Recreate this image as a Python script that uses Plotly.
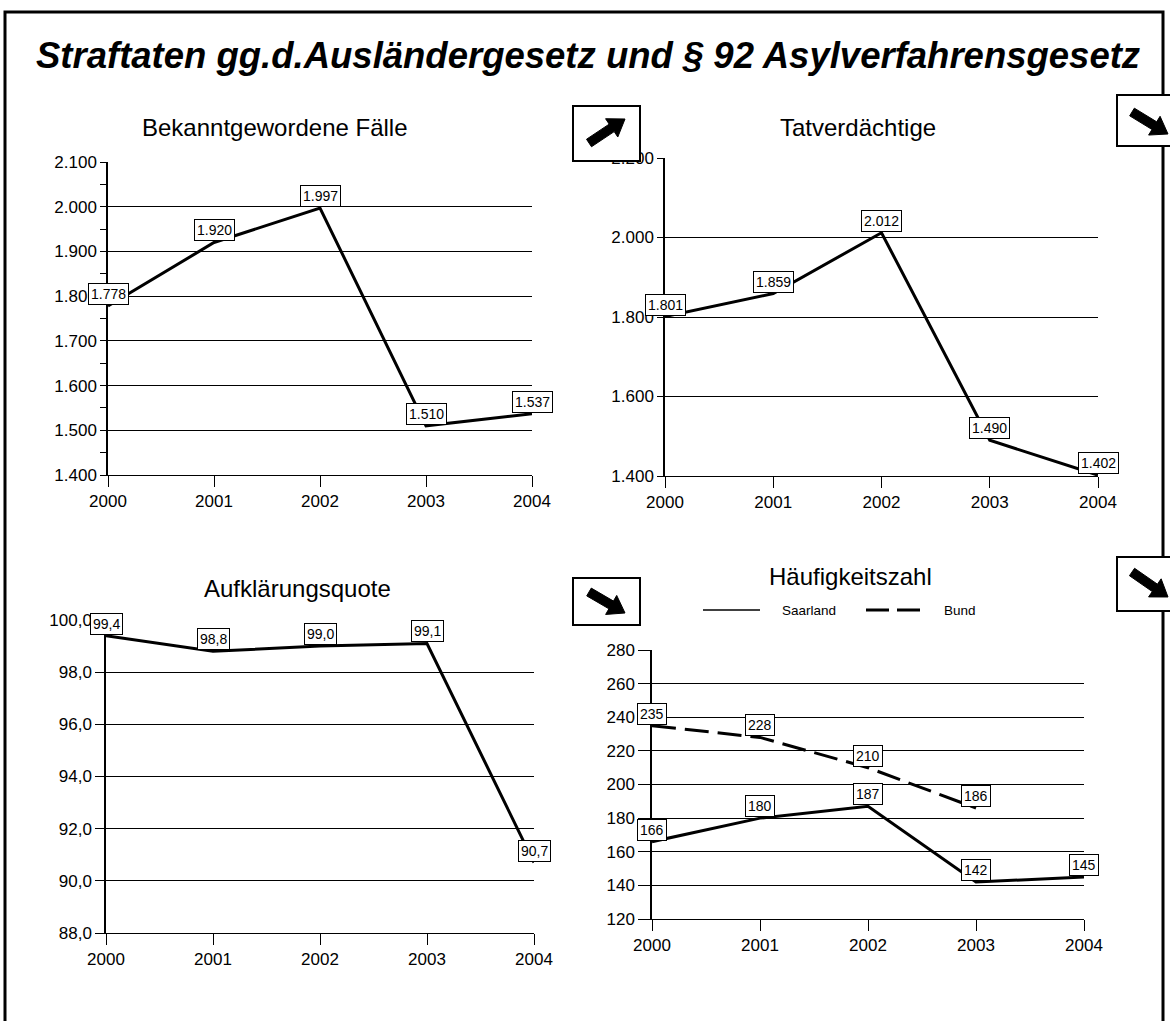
import plotly.graph_objects as go

W, H = 1170, 1021

# ---------------- data ----------------
years = [2000, 2001, 2002, 2003, 2004]
faelle = [1778, 1920, 1997, 1510, 1537]
tatverd = [1801, 1859, 2012, 1490, 1402]
aufkl = [99.4, 98.8, 99.0, 99.1, 90.7]
hzahl_saar = [166, 180, 187, 142, 145]
hzahl_bund_years = [2000, 2001, 2002, 2003]
hzahl_bund = [235, 228, 210, 186]

titles = ["Bekanntgewordene Fälle", "Tatverdächtige", "Aufklärungsquote", "Häufigkeitszahl"]
main_title = "Straftaten gg.d.Ausländergesetz und § 92 Asylverfahrensgesetz"
legend_names = ["Saarland", "Bund"]

FONT = "Liberation Sans, Arial, sans-serif"


def px(x):
    return x / W


def py(y):
    return 1 - y / H


def thou(v):
    return f"{v:,}".replace(",", ".")


def dec(v):
    return f"{v:.1f}".replace(".", ",")


fig = go.Figure()

# traces
fig.add_trace(go.Scatter(x=years, y=faelle, mode="lines", line=dict(color="black", width=3),
                         xaxis="x", yaxis="y", showlegend=False, hoverinfo="skip"))
fig.add_trace(go.Scatter(x=years, y=tatverd, mode="lines", line=dict(color="black", width=3),
                         xaxis="x2", yaxis="y2", showlegend=False, hoverinfo="skip"))
fig.add_trace(go.Scatter(x=years, y=aufkl, mode="lines", line=dict(color="black", width=3),
                         xaxis="x3", yaxis="y3", showlegend=False, hoverinfo="skip"))
fig.add_trace(go.Scatter(x=hzahl_bund_years, y=hzahl_bund, mode="lines", name=legend_names[1],
                         line=dict(color="black", width=3, dash="24px,9px"),
                         xaxis="x4", yaxis="y4", showlegend=False, hoverinfo="skip"))
fig.add_trace(go.Scatter(x=years, y=hzahl_saar, mode="lines", name=legend_names[0],
                         line=dict(color="black", width=3),
                         xaxis="x4", yaxis="y4", showlegend=False, hoverinfo="skip"))

annotations = []


def add_labels(xs, ys, texts, xref, yref):
    for x, y, t in zip(xs, ys, texts):
        annotations.append(dict(x=x, y=y, xref=xref, yref=yref, text=t, showarrow=False,
                                xanchor="center", yanchor="bottom", yshift=1,
                                font=dict(family=FONT, size=14, color="black"),
                                bgcolor="white", bordercolor="black", borderwidth=1, borderpad=2))


add_labels(years, faelle, [thou(v) for v in faelle], "x", "y")
add_labels(years, tatverd, [thou(v) for v in tatverd], "x2", "y2")
add_labels(years, aufkl, [dec(v) for v in aufkl], "x3", "y3")
add_labels(hzahl_bund_years, hzahl_bund, [str(v) for v in hzahl_bund], "x4", "y4")
add_labels(years, hzahl_saar, [str(v) for v in hzahl_saar], "x4", "y4")

# subplot titles
for t, (cx, cy) in zip(titles, [(275, 127), (858, 127), (297, 588), (850, 576)]):
    annotations.append(dict(x=px(cx), y=py(cy), xref="paper", yref="paper", text=t, showarrow=False,
                            xanchor="center", yanchor="middle",
                            font=dict(family=FONT, size=24, color="black")))

# main title
annotations.append(dict(x=px(34), y=py(55), xref="paper", yref="paper",
                        text=f"<b><i>{main_title}</i></b>", showarrow=False,
                        xanchor="left", yanchor="middle",
                        font=dict(family=FONT, size=36.5, color="black")))

# legend texts
annotations.append(dict(x=px(780), y=py(610), xref="paper", yref="paper", text=legend_names[0],
                        showarrow=False, xanchor="left", yanchor="middle",
                        font=dict(family=FONT, size=13.5, color="black")))
annotations.append(dict(x=px(942), y=py(610), xref="paper", yref="paper", text=legend_names[1],
                        showarrow=False, xanchor="left", yanchor="middle",
                        font=dict(family=FONT, size=13.5, color="black")))

shapes = []
# outer frame
shapes.append(dict(type="rect", xref="paper", yref="paper", x0=px(5), x1=px(1163), y0=py(1060), y1=py(12),
                   line=dict(color="black", width=3), layer="below"))
# legend samples
shapes.append(dict(type="line", xref="paper", yref="paper", x0=px(703), x1=px(760), y0=py(610), y1=py(610),
                   line=dict(color="black", width=1.5)))
shapes.append(dict(type="line", xref="paper", yref="paper", x0=px(866), x1=px(922), y0=py(610), y1=py(610),
                   line=dict(color="black", width=3, dash="23px,8px")))


def arrow_path(x0, y0, x1, y1, sw=4.5, hw=11, hl=16):
    import math
    dx, dy = x1 - x0, y1 - y0
    L = math.hypot(dx, dy)
    ux, uy = dx / L, dy / L
    nx, ny = -uy, ux
    bx, by = x1 - ux * hl, y1 - uy * hl
    pts = [
        (x0 + nx * sw, y0 + ny * sw),
        (bx + nx * sw, by + ny * sw),
        (bx + nx * hw, by + ny * hw),
        (x1, y1),
        (bx - nx * hw, by - ny * hw),
        (bx - nx * sw, by - ny * sw),
        (x0 - nx * sw, y0 - ny * sw),
    ]
    return "M " + " L ".join(f"{px(a):.5f},{py(b):.5f}" for a, b in pts) + " Z"


boxes = [
    ((573, 106, 640, 161), (589, 143, 625, 119)),
    ((1117, 95, 1180, 146), (1132, 112, 1168, 134)),
    ((573, 578, 640, 625), (589, 592, 625, 613)),
    ((1117, 557, 1180, 611), (1132, 572, 1168, 597)),
]
for (bx0, by0, bx1, by1), (ax0, ay0, ax1, ay1) in boxes:
    shapes.append(dict(type="rect", xref="paper", yref="paper", x0=px(bx0), x1=px(bx1), y0=py(by1), y1=py(by0),
                       line=dict(color="black", width=2), fillcolor="white", layer="above"))
    shapes.append(dict(type="path", xref="paper", yref="paper", path=arrow_path(ax0, ay0, ax1, ay1),
                       line=dict(color="black", width=1), fillcolor="black", layer="above"))


def xax(d0, d1, anchor):
    return dict(domain=[px(d0), px(d1)], range=[2000, 2004], tickvals=years, ticktext=[str(y) for y in years],
                ticks="outside", ticklen=11, tickcolor="black", tickwidth=1, showgrid=False, zeroline=False,
                showline=True, linecolor="black", linewidth=1, anchor=anchor, automargin=False,
                tickfont=dict(family=FONT, size=17, color="black"), fixedrange=True)


def yax(t0, t1, rng, dtick, fmt, anchor, ticklen=6, minor=None):
    d = dict(domain=[py(t1), py(t0)], range=rng, dtick=dtick, tick0=rng[0], tickformat=fmt,
             ticks="outside", ticklen=ticklen, tickcolor="black", tickwidth=1,
             showgrid=True, gridcolor="black", gridwidth=1, zeroline=False,
             showline=True, linecolor="black", linewidth=1.5, anchor=anchor, automargin=False,
             tickfont=dict(family=FONT, size=17, color="black"), fixedrange=True)
    if minor:
        d["minor"] = minor
    return d


fig.update_layout(
    width=W, height=H, margin=dict(l=0, r=0, t=0, b=0, pad=0, autoexpand=False),
    autosize=False,
    paper_bgcolor="white", plot_bgcolor="white",
    separators=",.",
    showlegend=False,
    font=dict(family=FONT, color="black"),
    xaxis=xax(108, 532, "y"),
    yaxis=yax(162, 475, [1400, 2100], 100, ",d", "x",
              minor=dict(dtick=50, ticks="outside", ticklen=6, tickcolor="black", showgrid=False)),
    xaxis2=xax(665, 1098, "y2"),
    yaxis2=yax(158, 476, [1400, 2200], 200, ",d", "x2"),
    xaxis3=xax(106, 534, "y3"),
    yaxis3=yax(620, 933, [88, 100], 2, ".1f", "x3", ticklen=9),
    xaxis4=xax(652, 1084, "y4"),
    yaxis4=yax(650, 919, [120, 280], 20, "d", "x4", ticklen=12),
    annotations=annotations,
    shapes=shapes,
)

fig.write_html("out.html", config={"displayModeBar": False},
               post_script="document.body.style.margin='0';document.body.style.overflow='hidden';")
